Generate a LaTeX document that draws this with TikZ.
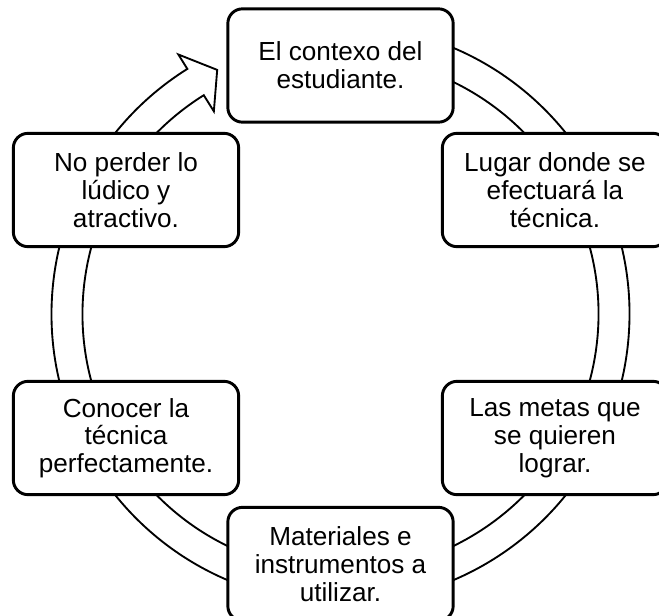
\documentclass[tikz,border=0pt]{standalone}
\usepackage{fontspec}
\setmainfont{Liberation Sans}
\usetikzlibrary{calc}
\begin{document}
\begin{tikzpicture}[x=0.75pt,y=0.75pt,
  cyclebox/.style={draw=black, line width=2.2pt, fill=white, rounded corners=11pt,
    minimum width=169pt, minimum height=85pt, align=center, inner sep=0pt,
    font=\fontsize{19.6}{20.8}\selectfont},
  ringline/.style={draw=black, line width=1.4pt, line join=miter}]
\useasboundingbox (0,0) rectangle (659,615);
\clip (0,0) rectangle (659,615);
\coordinate (c) at (340.5,301);
% ring arrow
\draw[ringline] ($(c)+(85:289)$) arc[start angle=85, end angle=-238, radius=289]
  -- ($(c)+(122:306)$) -- ($(c)+(116.8:273.5)$) -- ($(c)+(122:239)$)
  -- ($(c)+(122:258)$) arc[start angle=-238, end angle=85, radius=258] -- cycle;
% boxes
\node[cyclebox] (top) at (340.5,549.5) {El contexo del\\estudiante.};
\node[cyclebox] (rt) at (555,425) {Lugar donde se\\efectuará la\\técnica.};
\node[cyclebox] (rb) at (555,177) {Las metas que\\se quieren\\lograr.};
\node[cyclebox] (bot) at (340.5,51) {Materiales e\\instrumentos a\\utilizar.};
\node[cyclebox] (lb) at (126,177) {Conocer la\\técnica\\perfectamente.};
\node[cyclebox] (lt) at (126,425) {No perder lo\\lúdico y\\atractivo.};
\end{tikzpicture}
\end{document}
